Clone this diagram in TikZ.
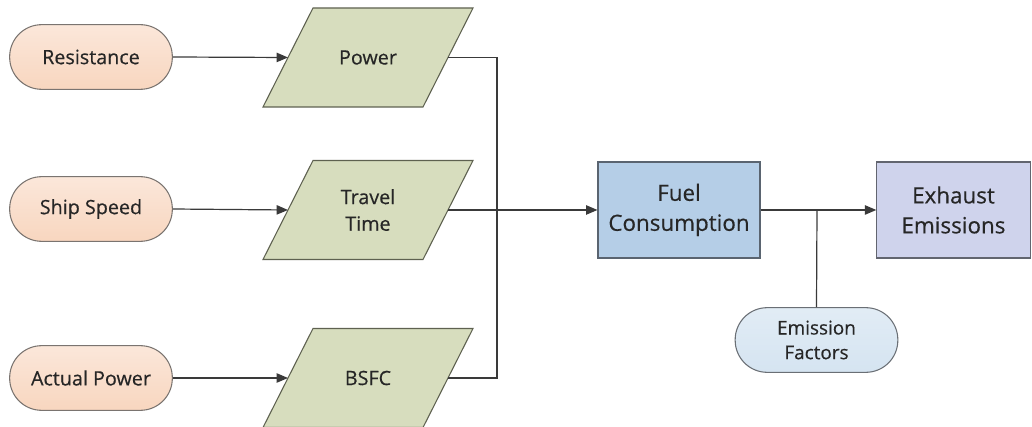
\documentclass[tikz,border=0pt]{standalone}
\usepackage{fontspec}
\setmainfont{Open Sans}[FakeBold=0.4]
\usetikzlibrary{arrows.meta}
\definecolor{pillfill}{HTML}{F8D6BF}
\definecolor{pilltop}{HTML}{FBE7DA}
\definecolor{pillline}{HTML}{7A7470}
\definecolor{parafill}{HTML}{D7DDBE}
\definecolor{paraline}{HTML}{5E6150}
\definecolor{fuelfill}{HTML}{B5CEE7}
\definecolor{fuelline}{HTML}{5A6470}
\definecolor{exhfill}{HTML}{CFD3EC}
\definecolor{exhline}{HTML}{62656F}
\definecolor{efill}{HTML}{D5E4F1}
\definecolor{eline}{HTML}{6A6F75}
\definecolor{conn}{HTML}{3A3A3A}
\definecolor{txt}{HTML}{262626}
\tikzset{
  pill/.style={rectangle, rounded corners=24pt, minimum width=122pt, minimum height=48.5pt,
    draw=pillline, line width=0.8pt, top color=pilltop, bottom color=pillfill,
    font=\fontsize{14.8}{18}\selectfont, text=txt, align=center, inner sep=0pt},
  epill/.style={pill, draw=eline, top color=efill!70!white, bottom color=efill,
    font=\fontsize{14.2}{18.5}\selectfont},
  parashape/.style={draw=paraline, line width=0.8pt, fill=parafill},
  paratext/.style={font=\fontsize{14.8}{20}\selectfont, text=txt, align=center, inner sep=0pt},
  bigbox/.style={rectangle, minimum height=72pt, line width=0.8pt, inner sep=0pt,
    font=\fontsize{16.8}{22.5}\selectfont, text=txt, align=center},
  conline/.style={draw=conn, line width=0.9pt},
  arr/.style={conline, -{Triangle[length=8.5pt,width=7pt]}}
}
% parallelogram: name, x, y, text
\newcommand\mypara[4]{%
  \draw[parashape] (#2-105,#3+49.5) -- (#2-55,#3-49.5) -- (#2+105,#3-49.5) -- (#2+55,#3+49.5) -- cycle;
  \coordinate (#1-w) at (#2-80,#3);
  \coordinate (#1-e) at (#2+80,#3);
  \node[paratext] (#1) at (#2,#3) {#4};
}
\begin{document}
\begin{tikzpicture}[x=0.75pt,y=-0.75pt]
\useasboundingbox (0,0) rectangle (1032,427);
\node[pill] (res) at (91,57) {Resistance};
\node[pill] (spd) at (91,209) {Ship Speed};
\node[pill] (act) at (91,378) {Actual Power};
\mypara{pow}{368}{57.5}{Power}
\mypara{trv}{368}{210}{Travel\\Time}
\mypara{bsfc}{368}{378}{BSFC}
\node[bigbox, draw=fuelline, fill=fuelfill, minimum width=121.5pt] (fuel) at (679,210) {Fuel\\Consumption};
\node[bigbox, draw=exhline, fill=exhfill, minimum width=115pt] (exh) at (953.5,210) {Exhaust\\Emissions};
\node[epill] (ef) at (816.5,340) {Emission\\Factors};
\coordinate (j) at (497,210);
\coordinate (k) at (817,210);
\draw[arr] (res.east) -- (pow-w);
\draw[arr] (spd.east) -- (trv-w);
\draw[arr] (act.east) -- (bsfc-w);
\draw[conline] (pow-e) -| (j) |- (bsfc-e);
\draw[arr] (trv-e) -- (fuel.west);
\draw[arr] (fuel.east) -- (exh.west);
\draw[conline] (ef.north) -- (k);
\end{tikzpicture}
\end{document}
